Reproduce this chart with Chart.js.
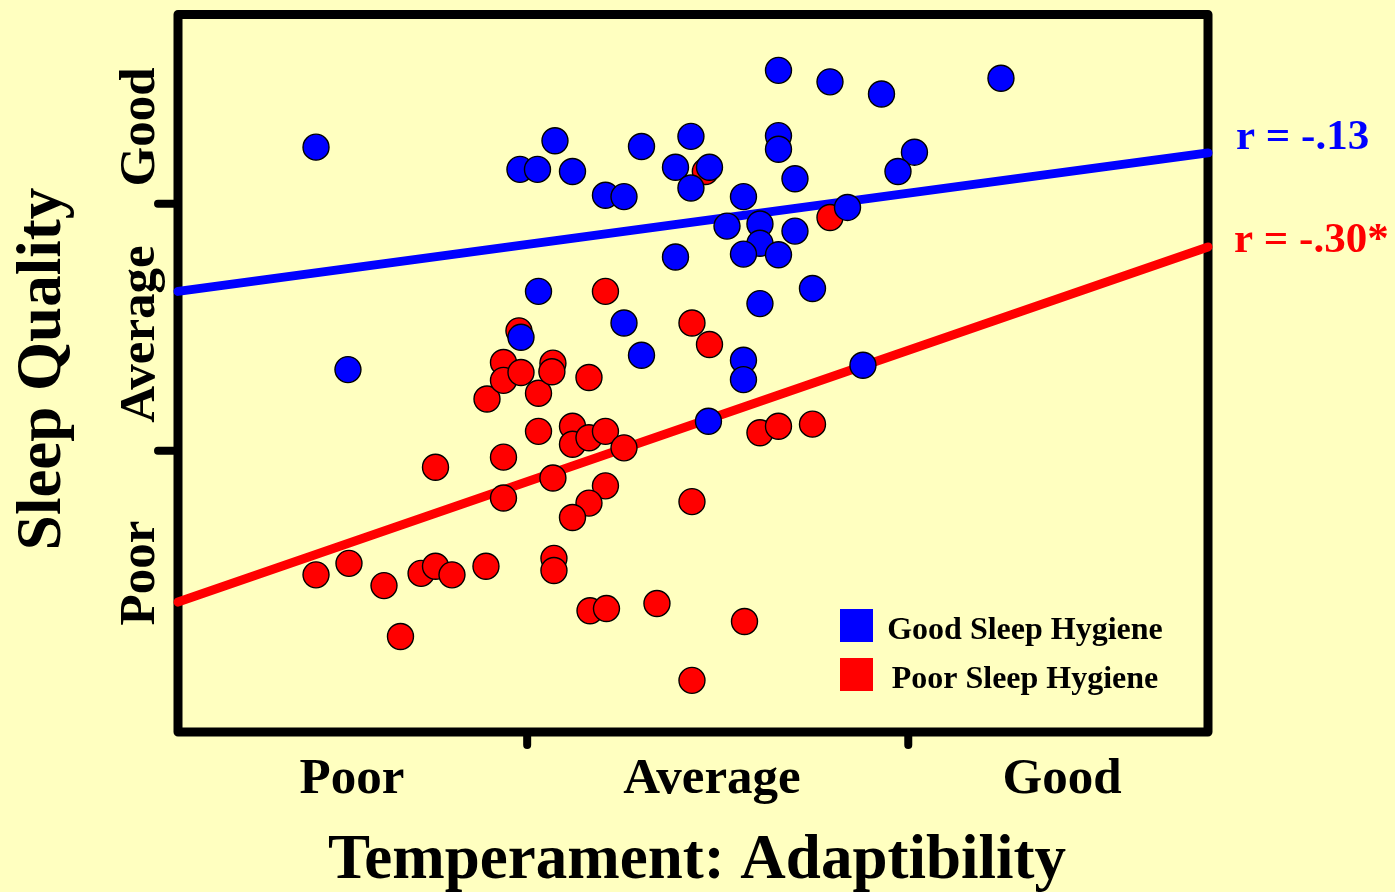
<!DOCTYPE html>
<html>
<head>
<meta charset="utf-8">
<title>Sleep Quality vs Adaptibility</title>
<script src="https://cdn.jsdelivr.net/npm/chart.js@4.4.0/dist/chart.umd.min.js"></script>
<style>
  html, body { margin: 0; padding: 0; background: #FFFFC0; overflow: hidden; }
  canvas { display: block; }
</style>
</head>
<body>
<canvas id="chart" width="1395" height="892"></canvas>
<script>
// data (both axes run 0..100 across the frame)
const goodX = [13.4, 16.5, 33.2, 34.9, 36.6, 38.3, 41.5, 43.3, 45.0, 48.3, 49.8, 51.6, 49.8, 58.3,
  63.3, 68.3, 79.9, 58.3, 58.3, 59.9, 54.9, 56.5, 53.3, 56.5, 54.9, 58.3, 59.9, 65.0, 71.5, 69.9,
  48.3, 35.0, 43.3, 33.3, 45.0, 56.5, 61.6, 54.9, 54.9, 66.5, 51.5];
const goodY = [81.5, 50.5, 78.4, 78.4, 82.4, 78.1, 74.8, 74.6, 81.6, 78.7, 83.0, 78.7, 75.8, 92.2,
  90.6, 88.9, 91.1, 83.1, 81.2, 77.1, 74.6, 70.8, 70.5, 68.1, 66.6, 66.5, 69.8, 73.1, 80.8, 78.1,
  66.2, 61.4, 57.0, 55.0, 52.5, 59.7, 61.8, 51.8, 49.1, 51.1, 43.3];

const poorX = [13.4, 16.6, 20.0, 21.6, 23.6, 25.0, 26.6, 29.9, 25.0, 30.0, 31.6, 31.6, 33.3, 33.1,
  35.0, 36.4, 36.3, 39.9, 31.6, 31.6, 35.0, 36.4, 38.3, 38.3, 39.9, 41.5, 43.3, 41.5, 39.9, 38.3,
  36.5, 36.5, 40.0, 41.6, 46.5, 49.9, 49.9, 55.0, 56.5, 58.3, 61.6, 41.5, 49.9, 51.6, 63.3, 51.2];
const poorY = [21.9, 23.5, 20.4, 13.3, 22.1, 23.1, 21.9, 23.1, 36.9, 46.4, 51.5, 49.0, 50.1, 55.9,
  47.2, 51.4, 50.2, 49.4, 38.3, 32.6, 41.9, 35.4, 42.6, 40.1, 41.0, 41.9, 39.6, 34.3, 31.9, 29.9,
  24.2, 22.5, 16.9, 17.2, 17.9, 32.1, 7.2, 15.4, 41.7, 42.6, 42.9, 61.4, 57.0, 54.0, 71.7, 78.1];

// fitted lines: y at x = 0 and x = 100
const fitX = [0, 100];
const goodFit = [61.4, 80.7];
const poorFit = [18.1, 67.6];

const xTicks = [33.9, 70.9];
const yTicks = [39.2, 73.6];
const xTickLabels = ['Poor', 'Average', 'Good'];
const yTickLabels = ['Poor', 'Average', 'Good'];
const seriesNames = ['Good Sleep Hygiene', 'Poor Sleep Hygiene'];
const rLabels = ['r = -.13', 'r = -.30*'];

const BLUE = '#0000FF';
const RED = '#FF0000';
const SERIF = '"Liberation Serif", "Times New Roman", serif';

const toPoints = (xs, ys) => xs.map((x, i) => ({ x: x, y: ys[i] }));

// frame, ticks, labels, legend and r values
const decorations = {
  id: 'decorations',
  beforeDraw(chart) {
    const ctx = chart.ctx;
    ctx.save();
    ctx.fillStyle = '#FFFFC0';
    ctx.fillRect(0, 0, chart.width, chart.height);
    ctx.restore();
  },
  beforeDatasetsDraw(chart) {
    const { ctx, chartArea: a, scales } = chart;
    ctx.save();
    ctx.strokeStyle = '#000';
    ctx.lineWidth = 9;
    ctx.lineJoin = 'round';
    ctx.lineCap = 'round';
    ctx.strokeRect(a.left, a.top, a.right - a.left, a.bottom - a.top);
    ctx.lineWidth = 8;
    xTicks.forEach(v => {
      const px = scales.x.getPixelForValue(v);
      ctx.beginPath();
      ctx.moveTo(px, a.bottom);
      ctx.lineTo(px, a.bottom + 13);
      ctx.stroke();
    });
    yTicks.forEach(v => {
      const py = scales.y.getPixelForValue(v);
      ctx.beginPath();
      ctx.moveTo(a.left, py);
      ctx.lineTo(a.left - 20, py);
      ctx.stroke();
    });
    ctx.restore();
  },
  afterDraw(chart) {
    const ctx = chart.ctx;
    ctx.save();
    ctx.fillStyle = '#000';

    // x tick labels
    const xLabelCentres = [352, 712, 1062];
    ctx.font = 'bold 51px ' + SERIF;
    ctx.textAlign = 'center';
    ctx.textBaseline = 'alphabetic';
    xTickLabels.forEach((t, i) => ctx.fillText(t, xLabelCentres[i], 793));

    // x title
    ctx.font = 'bold 63px ' + SERIF;
    ctx.fillText('Temperament: Adaptibility', 697, 878);

    // y tick labels (rotated)
    const yLabelCentres = [573, 334, 127];
    ctx.font = 'bold 51px ' + SERIF;
    yTickLabels.forEach((t, i) => {
      ctx.save();
      ctx.translate(154, yLabelCentres[i]);
      ctx.rotate(-Math.PI / 2);
      ctx.fillText(t, 0, 0);
      ctx.restore();
    });

    // y title
    ctx.save();
    ctx.font = 'bold 63px ' + SERIF;
    ctx.translate(60, 369);
    ctx.rotate(-Math.PI / 2);
    ctx.fillText('Sleep Quality', 0, 0);
    ctx.restore();

    // r values
    ctx.textAlign = 'left';
    ctx.font = 'bold 43px ' + SERIF;
    ctx.fillStyle = BLUE;
    ctx.fillText(rLabels[0], 1236, 149);
    ctx.fillStyle = RED;
    ctx.fillText(rLabels[1], 1234, 252);

    // legend
    const swatches = [BLUE, RED];
    ctx.font = 'bold 32px ' + SERIF;
    ctx.textAlign = 'center';
    seriesNames.forEach((name, i) => {
      ctx.fillStyle = swatches[i];
      ctx.fillRect(840, 609 + i * 49, 33, 33);
      ctx.fillStyle = '#000';
      ctx.fillText(name, 1025, 639 + i * 49);
    });
    ctx.restore();
  }
};

new Chart(document.getElementById('chart'), {
  type: 'scatter',
  data: {
    datasets: [
      {
        label: seriesNames[0],
        data: toPoints(goodX, goodY),
        backgroundColor: BLUE,
        borderColor: '#000',
        borderWidth: 1.4,
        pointRadius: 13
      },
      {
        label: seriesNames[1],
        data: toPoints(poorX, poorY),
        backgroundColor: RED,
        borderColor: '#000',
        borderWidth: 1.4,
        pointRadius: 13
      },
      {
        type: 'line',
        label: 'good fit',
        data: toPoints(fitX, goodFit),
        borderColor: BLUE,
        borderWidth: 9,
        borderCapStyle: 'round',
        pointRadius: 0,
        fill: false,
        clip: 6
      },
      {
        type: 'line',
        label: 'poor fit',
        data: toPoints(fitX, poorFit),
        borderColor: RED,
        borderWidth: 9,
        borderCapStyle: 'round',
        pointRadius: 0,
        fill: false,
        clip: 6
      }
    ]
  },
  options: {
    responsive: false,
    animation: false,
    layout: { padding: { left: 178, right: 187, top: 12, bottom: 160 } },
    scales: {
      x: { type: 'linear', min: 0, max: 100, display: false },
      y: { type: 'linear', min: 0, max: 100, display: false }
    },
    plugins: {
      legend: { display: false },
      tooltip: { enabled: false }
    }
  },
  plugins: [decorations]
});
</script>
</body>
</html>
